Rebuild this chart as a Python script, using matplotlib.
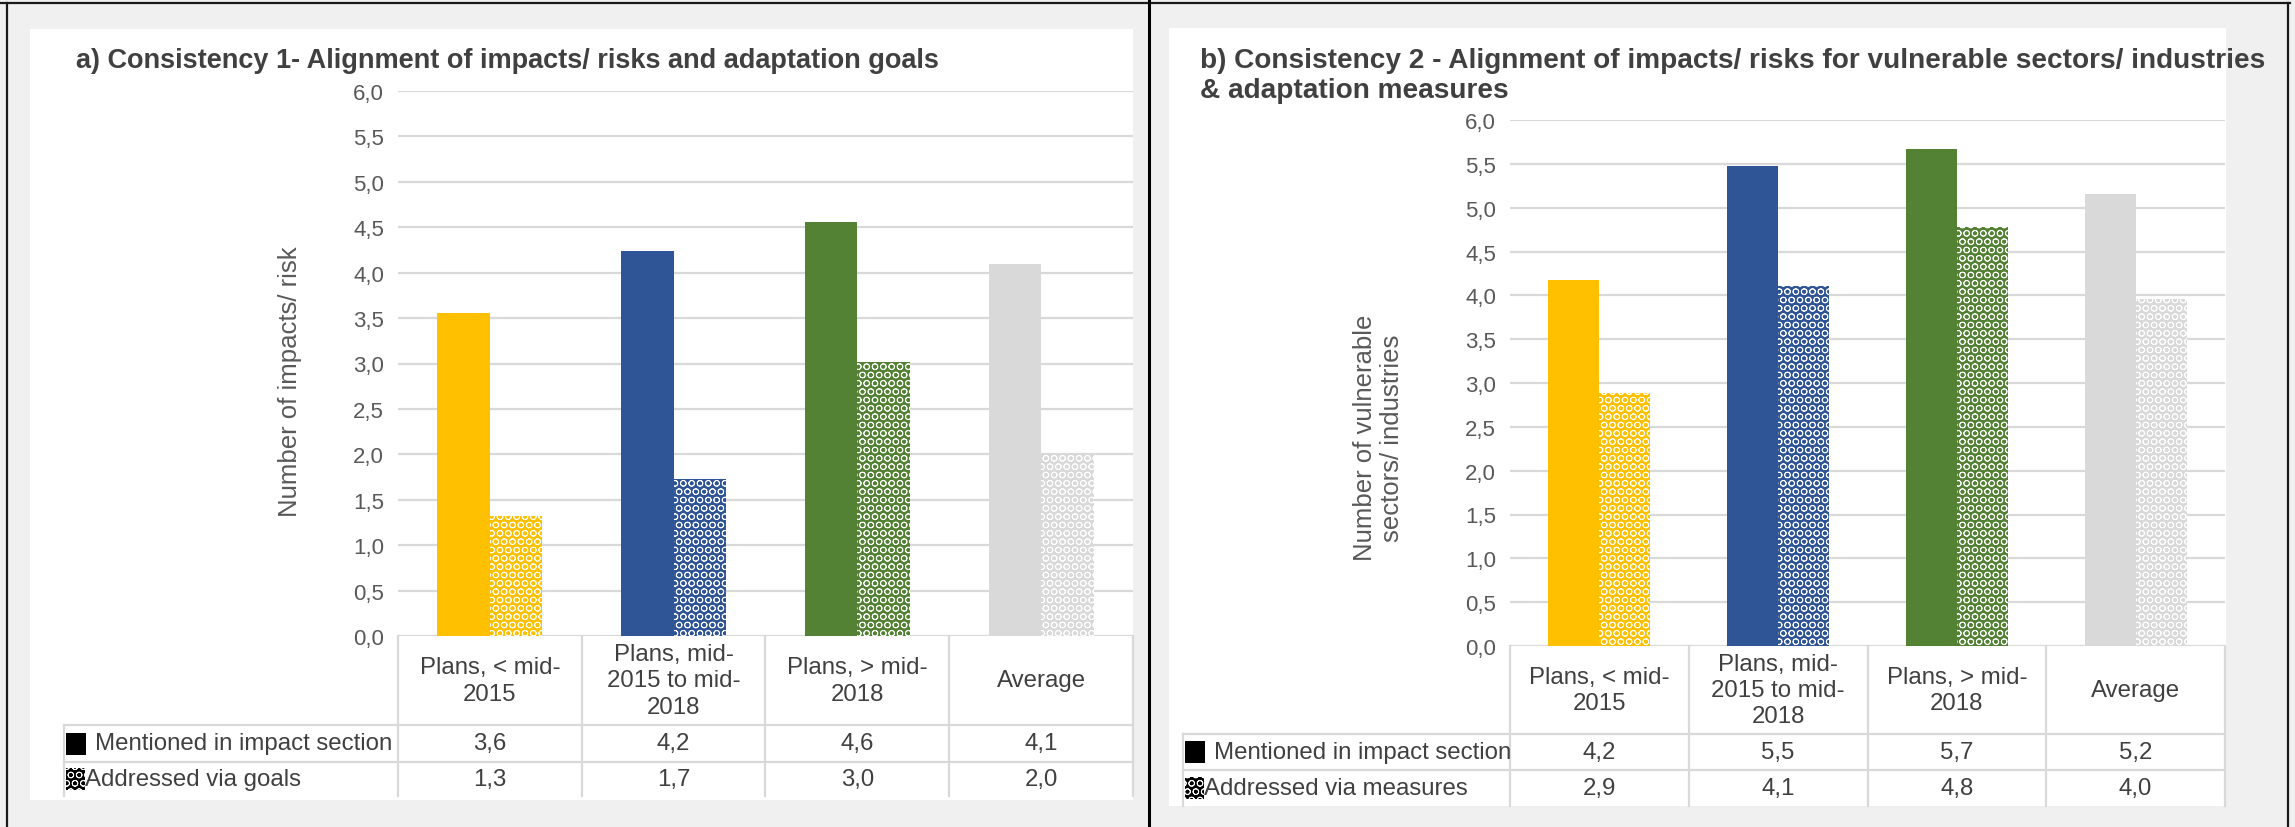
import numpy as np
import matplotlib
matplotlib.use("Agg")
import matplotlib.pyplot as plt
from matplotlib.patches import Rectangle

W, H = 2295, 828

categories = ["Plans, < mid-\n2015", "Plans, mid-\n2015 to mid-\n2018",
              "Plans, > mid-\n2018", "Average"]
colors = ["#FFC000", "#2F5597", "#548235", "#D9D9D9"]

a_mentioned = [3.56, 4.24, 4.56, 4.10]
a_addressed = [1.32, 1.73, 3.02, 2.00]
b_mentioned = [4.18, 5.47, 5.67, 5.16]
b_addressed = [2.89, 4.11, 4.78, 3.96]

a_rows = ["Mentioned in impact section", "Addressed via goals"]
b_rows = ["Mentioned in impact section", "Addressed via measures"]

a_title = "a) Consistency 1- Alignment of impacts/ risks and adaptation goals"
b_title = ("b) Consistency 2 - Alignment of impacts/ risks for vulnerable sectors/ industries\n"
           "& adaptation measures")
a_ylabel = "Number of impacts/ risk"
b_ylabel = "Number of vulnerable\nsectors/ industries"

plt.rcParams['font.family'] = ['Liberation Sans', 'DejaVu Sans']
plt.rcParams['hatch.linewidth'] = 0.6

TXT = "#404040"
TICK = "#595959"
GRID = "#D9D9D9"
FS = 17.3


def fmt(v):
    return f"{v:.1f}".replace(".", ",")


def px_rect(x0, y0, x1, y1):
    return [x0 / W, 1 - y1 / H, (x1 - x0) / W, (y1 - y0) / H]


fig = plt.figure(figsize=(W / 100, H / 100), dpi=100, facecolor="#F0F0F0")


def panel(white, title, title_xy, title_fs, plot, label_x0, row_y, ylabel,
          ylabel_xy, mentioned, addressed, row_names):
    # white card behind each chart
    fig.add_artist(Rectangle((white[0] / W, 1 - white[3] / H),
                             (white[2] - white[0]) / W, (white[3] - white[1]) / H,
                             transform=fig.transFigure, facecolor="white",
                             edgecolor="none", zorder=0))
    fig.text(title_xy[0] / W, 1 - title_xy[1] / H, title, ha="left", va="center",
             fontsize=title_fs, fontweight="bold", color=TXT, linespacing=1.25)

    px0, py0, px1, py1 = plot
    ax = fig.add_axes(px_rect(px0, py0, px1, py1))
    ax.set_facecolor("none")
    x = np.arange(len(categories))
    w = 1 / 3.5
    ax.bar(x - w / 2, mentioned, w, color=colors, zorder=2)
    # patterned bars: white ring pattern over the series colour
    ax.bar(x + w / 2, addressed, w, facecolor=colors, edgecolor="white",
           hatch="OO", linewidth=0, zorder=2)
    ax.set_xlim(-0.5, len(categories) - 0.5)
    ax.set_ylim(0, 6)
    ticks = np.arange(0, 6.01, 0.5)
    ax.set_yticks(ticks)
    ax.set_yticklabels([fmt(t) for t in ticks])
    ax.set_xticks([])
    ax.tick_params(axis="y", length=0, pad=10, labelsize=16, labelcolor=TICK)
    ax.yaxis.grid(True, color=GRID, linewidth=1.6)
    ax.set_axisbelow(True)
    for s in ax.spines.values():
        s.set_visible(False)
    ax.set_ylabel(ylabel, fontsize=18.5, color=TICK, linespacing=1.15)
    ax.yaxis.set_label_coords((ylabel_xy[0] - px0) / (px1 - px0),
                              (py1 - ylabel_xy[1]) / (py1 - py0))

    # data table under the bars, sharing the category positions
    r_head, r_mid, r_bot = row_y
    tax = fig.add_axes(px_rect(label_x0, py1, px1, r_bot))
    units = len(categories) / (px1 - px0)
    xl = -0.5 - (px0 - label_x0) * units
    tax.set_xlim(xl, len(categories) - 0.5)
    tax.set_ylim(r_bot, py1)
    tax.axis("off")
    kw = dict(color=GRID, linewidth=1.6, clip_on=False)
    for b in np.arange(len(categories) + 1) - 0.5:
        tax.plot([b, b], [py1, r_bot], **kw)
    tax.plot([xl, xl], [r_head, r_bot], **kw)
    tax.plot([xl, len(categories) - 0.5], [r_head, r_head], **kw)
    tax.plot([xl, len(categories) - 0.5], [r_mid, r_mid], **kw)

    for i, c in enumerate(categories):
        tax.text(i, (py1 + r_head) / 2, c, ha="center", va="center",
                 fontsize=FS, color=TXT, linespacing=1.25)
        tax.text(i, (r_head + r_mid) / 2, fmt(mentioned[i]), ha="center",
                 va="center", fontsize=FS, color=TXT)
        tax.text(i, (r_mid + r_bot) / 2, fmt(addressed[i]), ha="center",
                 va="center", fontsize=FS, color=TXT)

    # legend keys inside the row header cells
    kx = xl + 2 * units
    kh = 22
    tax.add_patch(Rectangle((kx, (r_head + r_mid) / 2 + kh / 2), 20 * units, -kh,
                            facecolor="black", edgecolor="none", clip_on=False))
    tax.add_patch(Rectangle((kx, (r_mid + r_bot) / 2 + kh / 2), 19 * units, -kh,
                            facecolor="black", edgecolor="white", hatch="OO",
                            linewidth=0, clip_on=False))
    tax.text(kx + 29 * units, (r_head + r_mid) / 2, row_names[0], ha="left",
             va="center", fontsize=FS, color=TXT)
    tax.text(kx + 19 * units, (r_mid + r_bot) / 2, row_names[1], ha="left",
             va="center", fontsize=FS, color=TXT)
    return ax


panel((30, 30, 1133, 801), a_title, (76, 61), 19.5, (398, 92, 1133, 637), 64,
      (726, 763, 797), a_ylabel, (302, 382), a_mentioned, a_addressed, a_rows)
panel((1169, 29, 2226, 807), b_title, (1200, 76), 20.2, (1510, 121, 2225, 647),
      1183, (735, 771, 807), b_ylabel, (1404, 438), b_mentioned, b_addressed,
      b_rows)

# outer frame lines
frame = dict(color="#1a1a1a", linewidth=1.6, transform=fig.transFigure)
fig.add_artist(plt.Line2D([0, 2290 / W], [1 - 4 / H, 1 - 4 / H], **frame))
fig.add_artist(plt.Line2D([7 / W, 7 / W], [0, 1 - 4 / H], **frame))
fig.add_artist(plt.Line2D([1149 / W, 1149 / W], [0, 1], color="black",
                          linewidth=2.2, transform=fig.transFigure))
fig.add_artist(plt.Line2D([2288 / W, 2288 / W], [0, 1 - 4 / H], **frame))

fig.savefig("out.png", dpi=100, facecolor=fig.get_facecolor())
